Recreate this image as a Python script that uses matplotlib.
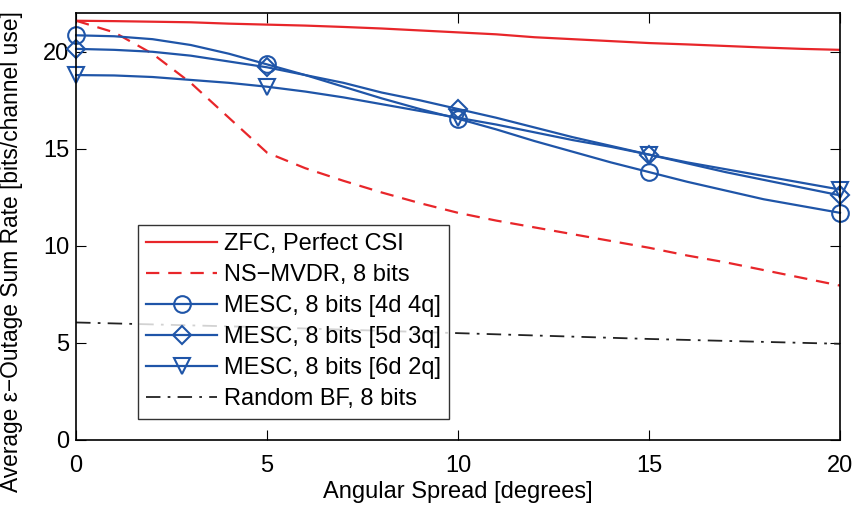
import numpy as np
import matplotlib
matplotlib.use("Agg")
import matplotlib.pyplot as plt

plt.rcParams['font.family'] = ['Liberation Sans', 'DejaVu Sans']

# angular spread [degrees]
spread = list(range(0, 21))

zfc_perfect = [21.6, 21.58, 21.55, 21.52, 21.45, 21.4, 21.35, 21.28, 21.2, 21.1, 21.0,
               20.9, 20.75, 20.65, 20.55, 20.45, 20.38, 20.3, 20.22, 20.15, 20.1]
ns_mvdr = [21.6, 21.0, 19.9, 18.4, 16.6, 14.8, 14.0, 13.35, 12.75, 12.2, 11.7,
           11.3, 10.95, 10.6, 10.25, 9.9, 9.5, 9.15, 8.75, 8.35, 7.95]
mesc_4d4q = [20.85, 20.8, 20.65, 20.35, 19.9, 19.35, 18.8, 18.2, 17.6, 17.05, 16.55,
             16.0, 15.4, 14.85, 14.3, 13.8, 13.3, 12.85, 12.4, 12.05, 11.7]
mesc_5d3q = [20.15, 20.1, 20.0, 19.8, 19.5, 19.2, 18.8, 18.4, 17.9, 17.5, 17.05,
             16.6, 16.1, 15.6, 15.15, 14.7, 14.25, 13.8, 13.4, 13.0, 12.6]
mesc_6d2q = [18.8, 18.78, 18.7, 18.55, 18.4, 18.2, 17.95, 17.65, 17.3, 16.95, 16.6,
             16.25, 15.85, 15.45, 15.1, 14.7, 14.3, 13.95, 13.6, 13.25, 12.9]
random_spread = [0, 5, 10, 15, 20]
random_bf = [6.05, 5.8, 5.5, 5.2, 4.95]

red = '#e8262a'
blue = '#1f55a8'

fig = plt.figure(figsize=(8.55, 5.05), dpi=100)
ax = fig.add_axes([0.089, 0.129, 0.8935, 0.8453])

ax.plot(spread, zfc_perfect, '-', color=red, lw=1.6, label='ZFC, Perfect CSI')
ax.plot(spread, ns_mvdr, '--', color=red, lw=1.6, dashes=(6, 4), label='NS\u2212MVDR, 8 bits')
mk = dict(markevery=5, markersize=12, markerfacecolor='none', markeredgewidth=1.5, clip_on=False)
ax.plot(spread, mesc_4d4q, '-o', color=blue, lw=1.6, label='MESC, 8 bits [4d 4q]', **mk)
ax.plot(spread, mesc_5d3q, '-D', color=blue, lw=1.6, label='MESC, 8 bits [5d 3q]',
        markevery=5, markersize=9.5, markerfacecolor='none', markeredgewidth=1.5, clip_on=False)
ax.plot(spread, mesc_6d2q, '-v', color=blue, lw=1.6, label='MESC, 8 bits [6d 2q]', **mk)
ax.plot(random_spread, random_bf, '-.', color='#222222', lw=1.3, dashes=(8, 4, 1.5, 4),
        label='Random BF, 8 bits')

ax.set_xlim(0, 20)
ax.set_ylim(0, 22)
ax.set_xticks([0, 5, 10, 15, 20])
ax.set_yticks([0, 5, 10, 15, 20])
ax.tick_params(direction='in', length=7, labelsize=17, top=True, right=True)
ax.tick_params(axis='x', pad=11)
ax.tick_params(axis='y', pad=5)
for s in ax.spines.values():
    s.set_linewidth(1.2)
ax.set_xlabel('Angular Spread [degrees]', fontsize=17, labelpad=3)
ax.set_ylabel('Average \u03b5\u2212Outage Sum Rate [bits/channel use]', fontsize=16.4)
ax.yaxis.set_label_coords(-0.07, 0.44)

leg = ax.legend(loc='lower left', bbox_to_anchor=(0.081, 0.05), fontsize=17,
                handlelength=3.0, frameon=True, fancybox=False, edgecolor='black',
                borderpad=0.35, labelspacing=0.38, handletextpad=0.3, borderaxespad=0)
leg.get_frame().set_linewidth(1.0)

fig.savefig('out.png', dpi=100)
